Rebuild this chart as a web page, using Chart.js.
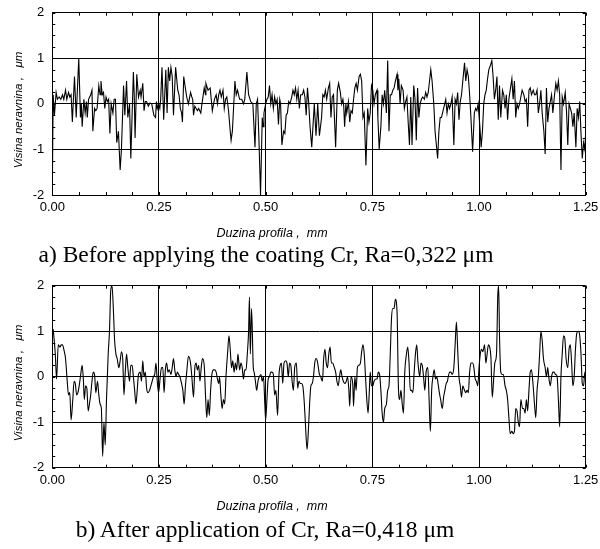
<!DOCTYPE html>
<html>
<head>
<meta charset="utf-8">
<script src="https://cdn.jsdelivr.net/npm/chart.js@4.4.1/dist/chart.umd.min.js"></script>
<style>
  body { margin: 0; background: #fff; }
  #wrap { position: relative; width: 600px; height: 549px; overflow: hidden; }
  canvas { position: absolute; left: 0; }
  .cap { position: absolute; font-family: "Liberation Serif", "Times New Roman", serif; font-size: 23.5px; line-height: 24px; white-space: nowrap; transform: translateX(-50%); color: #000; }
  .xt { position: absolute; font-family: "Liberation Sans", Arial, sans-serif; font-style: italic; font-size: 12.5px; line-height: 13px; white-space: nowrap; transform: translate(-50%, -50%); color: #000; }
  .yt { position: absolute; font-family: "Liberation Sans", Arial, sans-serif; font-style: italic; font-size: 11.5px; line-height: 12px; white-space: nowrap; transform: translate(-50%, -50%) rotate(-90deg); color: #000; }
</style>
</head>
<body>
<div id="wrap">
  <canvas id="topChart" width="600" height="275" style="top:0"></canvas>
  <canvas id="botChart" width="600" height="274" style="top:275px"></canvas>
  <div class="yt" style="left:17.5px; top:110px">Visina neravnina ,&nbsp;&nbsp; μm</div>
  <div class="xt" style="left:272px; top:233px">Duzina profila ,&nbsp; mm</div>
  <div class="cap" id="capA" style="left:266px; top:242px"></div>
  <div class="yt" style="left:17.5px; top:383px">Visina neravnina ,&nbsp;&nbsp; μm</div>
  <div class="xt" style="left:272px; top:506px">Duzina profila ,&nbsp; mm</div>
  <div class="cap" id="capB" style="left:265px; top:517px"></div>
</div>
<script>
// profile data: [length mm, height um]
var topProfile = [
  [0.000,-2.0],[0.002,0.2],[0.005,-0.25],[0.009,0.25],[0.012,0.1],[0.016,0.15],[0.020,0.1],[0.024,0.2],[0.027,0.1],[0.031,0.3],
  [0.034,0.1],[0.038,0.25],[0.041,0.15],[0.044,0.2],[0.047,-0.4],[0.052,0.6],[0.056,-0.3],[0.062,1.0],[0.066,-0.3],[0.068,0.0],
  [0.070,-0.5],[0.074,0.1],[0.077,-0.2],[0.080,0.05],[0.082,-0.3],[0.085,0.1],[0.090,0.2],[0.093,0.3],[0.095,-0.6],[0.099,-0.1],
  [0.102,-0.15],[0.105,-0.1],[0.109,0.4],[0.112,0.2],[0.114,0.5],[0.117,0.2],[0.120,0.25],[0.123,-0.1],[0.126,0.15],[0.129,0.05],
  [0.132,0.1],[0.135,-0.65],[0.138,0.0],[0.142,-0.2],[0.145,0.1],[0.148,0.1],[0.151,-0.85],[0.155,-0.6],[0.159,-1.45],[0.162,-1.0],
  [0.167,0.4],[0.170,-0.25],[0.174,0.5],[0.177,-0.3],[0.181,0.0],[0.184,-1.2],[0.190,0.7],[0.192,0.2],[0.194,-0.75],[0.198,0.65],
  [0.202,0.15],[0.206,0.3],[0.208,0.15],[0.212,0.45],[0.215,-0.15],[0.218,0.05],[0.221,0.05],[0.225,-0.05],[0.229,0.02],[0.233,0.0],
  [0.235,-0.1],[0.238,-0.25],[0.242,-0.3],[0.244,0.05],[0.246,-0.1],[0.249,0.0],[0.252,-0.1],[0.254,0.1],[0.257,0.8],[0.261,-0.35],
  [0.266,0.75],[0.269,-0.2],[0.272,0.8],[0.275,0.5],[0.278,0.8],[0.281,0.6],[0.284,-0.25],[0.289,0.8],[0.294,0.3],[0.297,0.2],
  [0.300,-0.1],[0.303,-0.2],[0.305,-0.4],[0.308,0.6],[0.311,0.4],[0.315,0.15],[0.319,0.0],
  [0.324,0.25],[0.327,0.15],[0.329,0.1],[0.331,-0.25],[0.334,-0.05],[0.337,-0.1],[0.340,-0.15],[0.343,-0.1],[0.348,-0.2],[0.350,-0.05],
  [0.356,0.35],[0.359,0.2],[0.360,0.45],[0.365,0.3],[0.370,0.35],[0.375,-0.15],[0.380,0.1],[0.384,0.2],[0.387,0.0],[0.390,0.2],
  [0.393,0.3],[0.396,0.15],[0.400,0.3],[0.403,-0.1],[0.406,0.1],[0.409,0.15],[0.413,-0.15],[0.417,-0.6],[0.419,-0.8],[0.422,-0.6],
  [0.428,0.5],[0.431,0.2],[0.434,0.3],[0.439,0.1],[0.444,0.1],[0.448,0.0],[0.451,0.1],[0.456,0.7],[0.460,0.2],[0.465,0.05],
  [0.470,0.0],[0.475,-0.95],[0.478,0.0],[0.481,0.1],[0.484,-0.7],[0.488,-2.0],[0.492,-0.3],[0.494,-0.5],[0.496,-0.2],[0.500,0.0],
  [0.503,0.1],[0.506,0.15],[0.509,0.4],[0.512,0.0],[0.515,0.2],[0.518,-0.1],[0.521,0.15],[0.524,0.0],[0.527,0.1],[0.530,-0.45],
  [0.533,0.1],[0.535,0.0],[0.538,-0.9],[0.542,-0.6],[0.545,-0.65],[0.548,-0.25],[0.551,-0.2],[0.554,0.05],[0.557,0.0],[0.561,0.15],
  [0.564,0.3],[0.567,0.2],[0.570,0.35],[0.573,0.1],[0.576,0.3],[0.579,-0.1],[0.582,0.2],[0.586,0.2],[0.589,0.3],[0.592,0.15],
  [0.595,-0.25],[0.598,0.35],[0.601,0.0],[0.604,-0.5],[0.608,-0.95],
  [0.614,0.0],[0.618,-0.7],[0.622,0.0],[0.626,-0.7],[0.631,-0.3],[0.634,0.2],[0.637,0.15],[0.640,0.3],[0.643,0.1],[0.647,0.35],
  [0.650,0.45],[0.653,-0.3],[0.656,0.15],[0.659,0.2],[0.664,-0.95],[0.668,0.3],[0.671,0.45],[0.675,0.25],[0.678,0.0],[0.681,0.1],
  [0.683,-0.05],[0.685,-0.5],[0.688,0.0],[0.690,-0.2],[0.694,0.05],[0.697,-0.4],[0.700,-0.15],[0.703,-0.2],[0.706,0.1],[0.709,0.35],
  [0.712,0.45],[0.715,0.3],[0.719,0.6],[0.722,0.65],[0.725,0.5],[0.728,-0.3],[0.731,-0.2],[0.735,-1.35],[0.739,-0.1],[0.742,-0.4],
  [0.745,-0.2],[0.748,0.4],[0.751,0.3],[0.754,0.0],[0.757,0.2],[0.761,0.3],[0.763,-0.3],[0.766,-1.0],[0.770,-0.5],[0.773,0.2],
  [0.776,0.0],[0.779,0.3],[0.783,-0.2],[0.786,0.95],[0.789,-0.6],[0.792,0.2],[0.795,0.2],[0.798,0.3],[0.801,0.35],[0.804,0.5],
  [0.808,0.65],[0.810,0.3],[0.812,0.55],[0.815,0.0],[0.818,0.4],[0.822,0.3],[0.825,-0.1],[0.828,0.05],[0.831,0.15],[0.834,-0.4],
  [0.837,-0.9],[0.840,0.15],[0.843,-0.9],[0.847,0.4],[0.850,0.1],[0.853,-0.8],[0.856,0.35],[0.859,-0.3],[0.862,0.0],[0.865,0.1],
  [0.868,0.15],[0.872,0.1],[0.875,0.25],[0.878,0.15],[0.881,0.25],[0.884,0.5],[0.887,0.75],[0.890,0.5],[0.894,0.0],[0.897,-0.6],
  [0.903,-1.2],[0.906,-0.6],[0.909,-0.3],[0.912,-0.3],
  [0.922,0.1],[0.925,-0.2],[0.928,0.0],[0.931,-0.1],[0.934,0.0],[0.937,0.15],[0.941,-0.9],[0.944,0.1],[0.947,0.0],[0.950,0.25],
  [0.953,-0.35],[0.956,0.05],[0.959,0.2],[0.962,0.5],[0.966,0.9],[0.969,0.5],[0.972,0.75],[0.975,0.6],[0.978,0.2],[0.981,-0.3],
  [0.985,-1.05],[0.989,-0.2],[0.992,-0.1],[0.995,-0.15],[0.998,0.0],[1.002,-0.5],[1.005,-0.95],[1.008,-0.6],[1.011,0.0],[1.014,0.2],
  [1.017,0.3],[1.020,0.55],[1.023,0.75],[1.027,0.85],[1.030,0.95],[1.033,0.6],[1.036,0.1],[1.039,0.3],[1.042,0.6],[1.045,-0.35],
  [1.048,0.4],[1.051,-0.3],[1.055,0.3],[1.058,0.2],[1.061,-0.1],[1.064,0.2],[1.067,-0.35],[1.070,0.1],[1.073,0.3],[1.077,0.55],
  [1.080,0.1],[1.083,0.5],[1.086,-0.3],[1.089,0.0],[1.092,-0.1],[1.095,0.0],[1.098,0.15],[1.101,0.3],[1.105,0.2],[1.108,0.05],
  [1.111,0.1],[1.114,-0.5],[1.117,0.3],[1.120,0.35],[1.123,0.2],[1.127,0.3],[1.130,0.2],[1.133,0.2],[1.136,0.3],[1.139,-0.2],
  [1.142,0.0],[1.145,0.3],[1.148,-0.2],[1.152,-0.6],[1.155,-1.1],[1.158,0.35],[1.161,-0.4],[1.164,-0.1],[1.167,0.05],[1.170,0.2],
  [1.173,-0.2],[1.177,0.2],[1.180,0.45],[1.183,0.3],[1.186,0.5],[1.189,0.2],[1.192,-1.45],[1.195,0.15],[1.198,0.0],[1.202,0.25],
  [1.205,-0.15],[1.208,-0.9],[1.211,0.0],[1.214,-0.1],[1.217,-0.2],[1.220,-0.5],[1.223,-0.2],[1.227,-0.95],[1.230,-0.1],[1.233,-0.3],
  [1.236,0.05],[1.239,-0.65],[1.242,-1.2],[1.245,-0.85],[1.248,-1.0],[1.250,-0.6]
];

var bottomProfile = [
  [0.002,1.05],[0.007,0.5],[0.010,-0.05],[0.014,0.7],[0.018,0.65],[0.021,0.7],[0.024,0.7],[0.027,0.6],[0.031,0.4],[0.035,-0.1],
  [0.038,-0.4],[0.041,-0.35],[0.044,-0.95],[0.048,-0.5],[0.051,-0.1],[0.054,-0.15],[0.057,-0.4],[0.060,-0.35],[0.063,-0.2],[0.066,0.0],
  [0.070,0.25],[0.073,-0.1],[0.075,-0.5],[0.078,-0.2],[0.081,-0.25],[0.084,-0.75],[0.087,-0.6],[0.090,-0.4],[0.093,-0.1],[0.096,0.1],
  [0.099,0.05],[0.102,-0.35],[0.106,-0.1],[0.109,-0.4],[0.112,-0.6],[0.115,-0.7],[0.118,-1.75],[0.121,-1.0],[0.124,-1.5],[0.127,-0.5],
  [0.131,0.5],[0.134,1.0],[0.137,1.9],[0.140,2.0],[0.143,1.5],[0.146,0.8],[0.149,0.5],[0.152,0.4],[0.156,0.2],[0.159,0.35],
  [0.162,0.55],[0.165,0.4],[0.168,-0.4],[0.171,0.1],[0.174,0.5],[0.177,0.2],[0.181,-0.1],[0.184,0.25],[0.187,0.25],[0.190,0.0],
  [0.193,-0.3],[0.196,-0.6],[0.199,-0.3],[0.202,0.05],[0.206,0.1],[0.209,-0.1],[0.212,0.35],[0.215,0.0],[0.218,0.1],[0.221,-0.25],
  [0.224,-0.35],[0.228,-0.3],[0.231,-0.2],[0.234,-0.1],[0.237,0.0],[0.240,0.05],[0.243,0.3],[0.246,-0.1],[0.249,-0.35],[0.253,0.0],
  [0.256,0.2],[0.259,0.2],[0.262,-0.35],[0.265,0.15],[0.268,0.3],[0.271,0.1],[0.274,0.15],[0.278,0.05],[0.281,0.2],[0.284,0.4],
  [0.287,0.15],[0.290,0.0],[0.293,0.1],[0.296,0.05],[0.299,0.0],[0.303,-0.15],[0.306,-0.3],[0.309,-0.6],[0.312,-0.2],[0.315,0.1],
  [0.319,0.45],
  [0.324,0.3],[0.327,0.0],[0.331,-0.45],[0.334,0.2],[0.337,0.3],[0.340,0.15],[0.343,0.25],[0.346,-0.1],[0.349,0.2],[0.352,0.4],
  [0.356,0.25],[0.359,-0.4],[0.362,-0.9],[0.365,-0.5],[0.368,-0.85],[0.371,-0.3],[0.374,0.05],[0.378,0.15],[0.381,0.15],[0.384,0.1],
  [0.387,-0.05],[0.390,-0.15],[0.392,0.0],[0.395,-0.4],[0.398,-0.7],[0.401,-0.5],[0.404,-0.6],[0.407,0.0],[0.411,0.55],[0.414,0.9],
  [0.417,0.6],[0.420,0.2],[0.423,0.35],[0.426,0.1],[0.429,0.3],[0.432,0.15],[0.435,0.5],[0.439,0.15],[0.442,0.3],[0.445,0.2],
  [0.448,-0.05],[0.451,0.15],[0.454,0.15],[0.457,0.5],[0.460,1.0],[0.462,1.75],[0.464,0.5],[0.467,1.5],[0.471,0.2],[0.473,0.1],
  [0.476,-0.1],[0.479,-0.3],[0.482,-0.1],[0.485,0.0],[0.489,0.05],[0.492,-0.1],[0.495,0.0],[0.498,-0.6],[0.500,-0.95],[0.503,-0.5],
  [0.506,-0.05],[0.509,0.0],[0.512,0.1],[0.515,0.1],[0.518,0.05],[0.521,-0.4],[0.524,-0.3],[0.528,-0.85],[0.531,0.0],[0.534,0.25],
  [0.537,0.3],[0.540,-0.15],[0.543,0.3],[0.547,0.35],[0.550,0.3],[0.553,0.0],[0.556,0.3],[0.559,0.25],[0.562,-0.1],[0.565,-0.3],
  [0.568,0.2],[0.572,0.3],[0.575,-0.25],[0.578,-0.1],[0.581,-0.15],[0.584,-0.15],[0.587,-0.2],[0.590,-0.5],[0.593,-1.0],[0.597,-1.6],
  [0.600,-1.2],[0.603,-0.6],[0.606,-0.2],[0.609,-0.15],[0.612,0.0],[0.615,0.3],[0.618,0.4],[0.621,0.35],
  [0.626,0.05],[0.629,0.0],[0.633,-0.1],[0.636,0.4],[0.639,0.6],[0.642,0.3],[0.645,0.2],[0.648,0.5],[0.651,0.65],[0.654,0.3],
  [0.657,0.3],[0.661,0.2],[0.664,0.1],[0.667,-0.1],[0.670,-0.2],[0.673,0.0],[0.676,0.15],[0.679,0.0],[0.682,-0.1],[0.686,-0.15],
  [0.689,-0.1],[0.692,0.0],[0.695,-0.3],[0.697,-0.65],[0.700,0.0],[0.704,-0.15],[0.706,-0.65],[0.709,0.0],[0.712,-0.3],[0.715,0.2],
  [0.718,0.25],[0.722,0.3],[0.725,0.55],[0.728,0.7],[0.731,0.5],[0.734,0.0],[0.737,-0.5],[0.740,-0.8],[0.743,-0.3],[0.745,0.1],
  [0.748,-0.2],[0.751,-0.2],[0.754,-0.1],[0.758,-0.05],[0.761,-0.05],[0.764,0.1],[0.767,0.05],[0.770,-0.3],[0.773,-0.8],[0.776,-1.0],
  [0.779,-0.7],[0.783,-0.6],[0.786,-0.3],[0.789,-0.2],[0.792,0.5],[0.795,1.3],[0.798,1.5],[0.801,1.5],[0.804,1.7],[0.808,1.4],
  [0.811,-0.2],[0.814,-0.5],[0.817,-0.3],[0.820,-0.6],[0.823,-0.8],[0.826,0.1],[0.830,0.5],[0.833,0.65],[0.836,0.3],[0.839,-0.3],
  [0.842,-0.3],[0.845,-0.35],[0.848,0.1],[0.851,0.5],[0.854,0.7],[0.857,0.3],[0.861,0.0],[0.864,0.3],[0.867,0.25],[0.870,0.0],
  [0.873,-0.3],[0.876,0.1],[0.880,0.2],[0.883,-0.5],[0.886,-1.2],[0.889,-0.3],[0.892,0.0],[0.895,0.15],[0.898,-0.05],[0.901,0.0],
  [0.904,-0.15],[0.907,-0.35],[0.910,-0.5],[0.914,-0.7],[0.917,-0.45],[0.920,-0.3],[0.923,-0.15],[0.926,-0.1],
  [0.928,0.0],[0.931,0.1],[0.934,0.1],[0.937,0.05],[0.941,0.2],[0.944,0.7],[0.947,1.2],[0.950,0.6],[0.953,0.0],[0.956,-0.2],
  [0.959,-0.45],[0.962,-0.2],[0.966,-0.3],[0.969,-0.35],[0.972,-0.3],[0.975,-0.35],[0.978,0.1],[0.981,0.3],[0.985,0.3],[0.988,0.2],
  [0.991,-0.05],[0.994,-0.1],[0.997,-0.2],[1.000,0.2],[1.003,0.5],[1.006,0.6],[1.009,0.55],[1.013,0.7],[1.016,0.3],[1.019,0.5],
  [1.022,0.7],[1.025,0.65],[1.028,0.4],[1.031,-0.45],[1.034,-0.1],[1.037,0.3],[1.041,0.5],[1.044,1.8],[1.046,2.0],[1.048,0.9],
  [1.051,0.1],[1.054,0.05],[1.057,0.05],[1.061,-0.2],[1.064,-0.3],[1.067,-0.5],[1.070,-0.9],[1.073,-1.25],[1.077,-1.2],[1.080,-1.25],
  [1.083,-1.2],[1.086,-0.7],[1.089,-0.75],[1.092,-1.0],[1.095,-1.1],[1.098,-0.5],[1.102,-0.7],[1.105,-0.7],[1.108,-0.8],[1.111,-0.5],
  [1.114,-0.75],[1.117,-0.3],[1.120,0.1],[1.123,0.15],[1.126,-0.1],[1.130,-0.6],[1.133,-0.9],[1.136,-0.3],[1.139,0.0],[1.142,0.5],
  [1.145,1.0],[1.148,0.8],[1.151,0.4],[1.155,0.2],[1.158,0.0],[1.161,0.2],[1.164,-0.05],[1.167,-0.2],[1.170,0.0],[1.173,0.1],
  [1.176,0.1],[1.179,0.05],[1.183,0.0],[1.186,-0.5],[1.189,-1.1],[1.192,0.0],[1.195,0.5],[1.198,0.9],[1.201,0.85],[1.204,0.4],
  [1.208,0.2],[1.211,0.6],[1.214,0.7],[1.217,0.3],[1.220,-0.2],[1.223,0.0],[1.226,0.6],[1.229,0.95],[1.233,1.0],[1.236,0.9],
  [1.239,0.5],[1.242,-0.15],[1.245,-0.2],[1.248,0.1],[1.250,0.0]
];

var xRange = [0, 1.25];
var xTicks = [0, 0.25, 0.5, 0.75, 1, 1.25];
var yRange = [-2, 2];
var yStep = 1;
var captionA = "a) Before applying the coating Cr, Ra=0,322 μm";
var captionB = "b) After application of Cr, Ra=0,418 μm";

document.getElementById("capA").textContent = captionA;
document.getElementById("capB").textContent = captionB;

Chart.defaults.font.family = '"Liberation Sans", Arial, sans-serif';
Chart.defaults.color = '#000';

// small inward ticks on the frame
var innerTicks = {
	id : 'innerTicks',
	afterDraw : function(chart){
		var ctx = chart.ctx, a = chart.chartArea;
		var xs = chart.scales.x, ys = chart.scales.y;
		var xStep = xTicks[1] - xTicks[0];
		ctx.save();
		ctx.strokeStyle = '#000';
		ctx.lineWidth = 1;
		ctx.beginPath();
		for (var v = xRange[0]; v <= xRange[1] + 1e-9; v += xStep / 4) {
			var px = Math.round(xs.getPixelForValue(v)) + 0.5;
			ctx.moveTo(px, a.top); ctx.lineTo(px, a.top + 3);
			ctx.moveTo(px, a.bottom); ctx.lineTo(px, a.bottom - 3);
		}
		for (var w = yRange[0]; w <= yRange[1] + 1e-9; w += yStep / 4) {
			var py = Math.round(ys.getPixelForValue(w)) + 0.5;
			ctx.moveTo(a.left, py); ctx.lineTo(a.left + 3, py);
			ctx.moveTo(a.right, py); ctx.lineTo(a.right - 3, py);
		}
		ctx.stroke();
		ctx.restore();
	}
};

function noPad(s){
	s.paddingTop = 0; s.paddingBottom = 0; s.paddingLeft = 0; s.paddingRight = 0;
}

function makeProfile(id, points, smooth, areaTop, xHeight){
	return new Chart(document.getElementById(id), {
		type : 'line',
		data : {
			datasets : [{
				data : points,
				borderColor : '#000',
				borderWidth : 1.1,
				pointRadius : 0,
				fill : false,
				tension : 0,
				cubicInterpolationMode : smooth ? 'monotone' : 'default'
			}]
		},
		options : {
			responsive : false,
			animation : false,
			events : [],
			layout : { padding : { left : 0, right : 14.3, top : areaTop, bottom : 0 } },
			plugins : { legend : { display : false }, tooltip : { enabled : false } },
			scales : {
				x : {
					type : 'linear',
					min : xRange[0], max : xRange[1],
					afterFit : function(s){ s.height = xHeight; noPad(s); },
					afterBuildTicks : function(s){
						s.ticks = xTicks.map(function(v){ return { value : v }; });
					},
					ticks : {
						callback : function(v){ return Number(v).toFixed(2); },
						font : { size : 13 },
						padding : 5,
						maxRotation : 0,
						autoSkip : false
					},
					grid : { color : '#000', lineWidth : 1, drawTicks : false },
					border : { display : true, color : '#000' }
				},
				y : {
					min : yRange[0], max : yRange[1],
					afterFit : function(s){ s.width = 52.3; noPad(s); },
					ticks : { stepSize : yStep, font : { size : 13 }, padding : 8 },
					grid : { color : '#000', lineWidth : 1, drawTicks : false },
					border : { display : true, color : '#000' }
				}
			}
		},
		plugins : [innerTicks]
	});
}

makeProfile('topChart', topProfile, false, 12.7, 80);
makeProfile('botChart', bottomProfile, true, 10.7, 81.3);
</script>
</body>
</html>
